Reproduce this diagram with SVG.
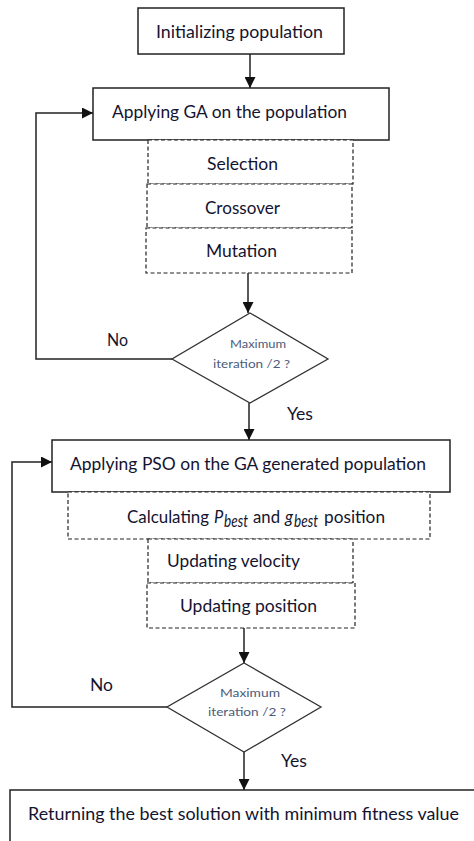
<svg xmlns="http://www.w3.org/2000/svg" width="474" height="841" viewBox="0 0 474 841">
<style>
.box{fill:#fff;stroke:#222;stroke-width:1.5}
.dash{fill:#fff;stroke:#222;stroke-width:1.2;stroke-dasharray:4,2.5}
.dia{fill:#fff;stroke:#333;stroke-width:1.3}
.t{font-family:Lato,"Liberation Sans",sans-serif;font-size:16.5px;fill:#141430}
.s{font-family:Lato,"Liberation Sans",sans-serif;font-size:11.5px;fill:#4b5c7c}
.c{fill:none;stroke:#222;stroke-width:1.5}
</style>
<defs>
<marker id="ah" viewBox="0 0 10 10" refX="10" refY="5" markerWidth="11" markerHeight="11" markerUnits="userSpaceOnUse" orient="auto">
<path d="M0,0 L10,5 L0,10 z" fill="#111"/>
</marker>
</defs>
<rect width="474" height="841" fill="#fff"/>
<g id="connectors">
<line class="c" x1="250" y1="54" x2="250" y2="88" marker-end="url(#ah)"/>
<line class="c" x1="248" y1="273" x2="248" y2="313" marker-end="url(#ah)"/>
<line class="c" x1="249" y1="403" x2="249" y2="440" marker-end="url(#ah)"/>
<path class="c" d="M172,359 H36 V113 H93" marker-end="url(#ah)"/>
<line class="c" x1="244" y1="628" x2="244" y2="663" marker-end="url(#ah)"/>
<path class="c" d="M167,707 H12 V462 H52" marker-end="url(#ah)"/>
<line class="c" x1="244" y1="752" x2="244" y2="790" marker-end="url(#ah)"/>
<text class="t" x="107" y="346" textLength="21" lengthAdjust="spacingAndGlyphs">No</text>
<text class="t" x="287" y="420" textLength="26" lengthAdjust="spacingAndGlyphs">Yes</text>
<text class="t" x="90" y="691" textLength="23" lengthAdjust="spacingAndGlyphs">No</text>
<text class="t" x="281" y="767" textLength="26" lengthAdjust="spacingAndGlyphs">Yes</text>
</g>
<g id="init">
<rect class="box" x="138" y="8" width="206" height="46"/>
<text class="t" x="156" y="38" textLength="167" lengthAdjust="spacingAndGlyphs">Initializing population</text>
</g>
<g id="ga">
<rect class="box" x="93" y="88" width="296" height="52"/>
<text class="t" x="112" y="118" textLength="235" lengthAdjust="spacingAndGlyphs">Applying GA on the population</text>
</g>
<g id="selection">
<rect class="dash" x="148" y="140" width="205" height="44"/>
<text class="t" x="207" y="170" textLength="71" lengthAdjust="spacingAndGlyphs">Selection</text>
</g>
<g id="crossover">
<rect class="dash" x="147" y="184" width="205" height="44"/>
<text class="t" x="205" y="214" textLength="75" lengthAdjust="spacingAndGlyphs">Crossover</text>
</g>
<g id="mutation">
<rect class="dash" x="146" y="228" width="206" height="45"/>
<text class="t" x="206" y="257" textLength="71" lengthAdjust="spacingAndGlyphs">Mutation</text>
</g>
<g id="decision1">
<polygon class="dia" points="250,313 328,359 250,403 172,359"/>
<text class="s" x="230" y="348" textLength="56" lengthAdjust="spacingAndGlyphs">Maximum</text>
<text class="s" x="213" y="368" textLength="77" lengthAdjust="spacingAndGlyphs">iteration  /2 ?</text>
</g>
<g id="pso">
<rect class="box" x="52" y="440" width="398" height="52"/>
<text class="t" x="70" y="470" textLength="356" lengthAdjust="spacingAndGlyphs">Applying PSO on the GA generated population</text>
</g>
<g id="calc">
<rect class="dash" x="68" y="492" width="362" height="47"/>
<text class="t" x="127" y="523" textLength="82" lengthAdjust="spacingAndGlyphs">Calculating</text>
<text class="t" x="214" y="523" font-style="italic">P</text>
<text class="t" x="224" y="527" font-size="10.5" font-style="italic" textLength="24" lengthAdjust="spacingAndGlyphs">best</text>
<text class="t" x="253" y="523" textLength="27" lengthAdjust="spacingAndGlyphs">and</text>
<text class="t" x="285" y="523" font-style="italic">g</text>
<text class="t" x="294" y="527" font-size="10.5" font-style="italic" textLength="24" lengthAdjust="spacingAndGlyphs">best</text>
<text class="t" x="324" y="523" textLength="61" lengthAdjust="spacingAndGlyphs">position</text>
</g>
<g id="velocity">
<rect class="dash" x="148" y="539" width="205" height="44"/>
<text class="t" x="167" y="567" textLength="133" lengthAdjust="spacingAndGlyphs">Updating velocity</text>
</g>
<g id="position">
<rect class="dash" x="147" y="583" width="208" height="45"/>
<text class="t" x="180" y="612" textLength="137" lengthAdjust="spacingAndGlyphs">Updating position</text>
</g>
<g id="decision2">
<polygon class="dia" points="244,663 321,707 244,752 167,707"/>
<text class="s" x="220" y="697" textLength="60" lengthAdjust="spacingAndGlyphs">Maximum</text>
<text class="s" x="208" y="716" textLength="78" lengthAdjust="spacingAndGlyphs">iteration  /2 ?</text>
</g>
<g id="result">
<rect class="box" x="10" y="790" width="480" height="70"/>
<text class="t" x="28" y="820" textLength="431" lengthAdjust="spacingAndGlyphs">Returning the best solution  with minimum fitness value</text>
</g>
</svg>
